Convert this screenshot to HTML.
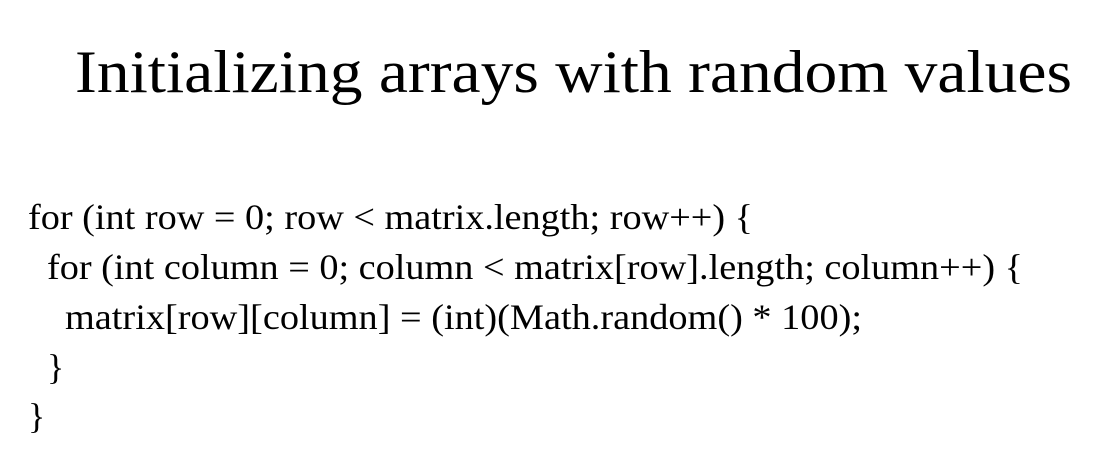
<!DOCTYPE html>
<html><head><meta charset="utf-8"><style>
html,body{margin:0;padding:0;background:#fff;}
svg{display:block;}
text{font-family:"Liberation Serif",serif;fill:#000;}
</style></head><body>
<svg width="1115" height="459" viewBox="0 0 1115 459">
<text x="75" y="92" font-size="60" textLength="997" lengthAdjust="spacingAndGlyphs">Initializing arrays with random values</text>
<text x="28" y="229" font-size="36" textLength="725" lengthAdjust="spacingAndGlyphs">for (int row = 0; row &lt; matrix.length; row++) {</text>
<text x="47" y="279" font-size="36" textLength="976" lengthAdjust="spacingAndGlyphs">for (int column = 0; column &lt; matrix[row].length; column++) {</text>
<text x="65" y="329" font-size="36" textLength="797" lengthAdjust="spacingAndGlyphs">matrix[row][column] = (int)(Math.random() * 100);</text>
<text x="47" y="379" font-size="36">}</text>
<text x="28" y="428" font-size="36">}</text>
</svg>
</body></html>
